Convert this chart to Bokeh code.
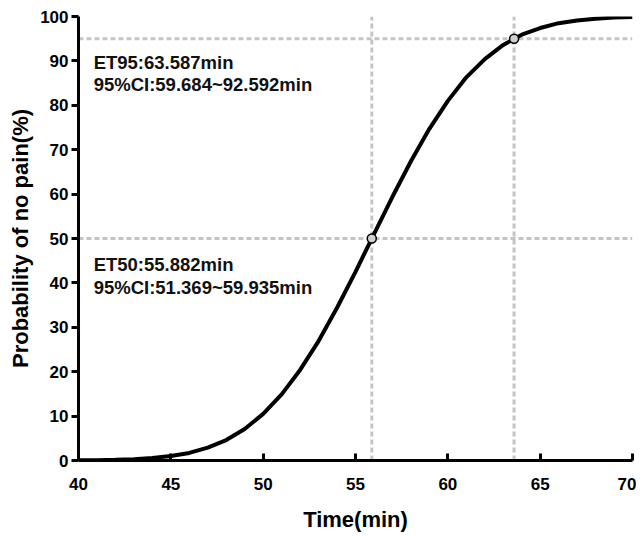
from bokeh.plotting import figure
from bokeh.embed import file_html
from bokeh.resources import INLINE
from bokeh.core.properties import value
from bokeh.models import ColumnDataSource, FixedTicker, Range1d

# Data
time_min = [40, 41, 42, 43, 44, 45, 46, 47, 48, 49, 50, 51, 52, 53, 54, 55,
            56, 57, 58, 59, 60, 61, 62, 63, 64, 65, 66, 67, 68, 69, 70]
prob_pct = [0.04, 0.07, 0.15, 0.3, 0.56, 1.0, 1.7, 2.9, 4.6, 7.1, 10.5, 14.9,
            20.4, 26.9, 34.4, 42.5, 51.0, 59.4, 67.4, 74.7, 81.0, 86.3, 90.4,
            93.6, 95.9, 97.4, 98.5, 99.1, 99.5, 99.75, 99.9]
et_x = [55.882, 63.587]
et_y = [50, 95]
x_ticks = [40, 45, 50, 55, 60, 65, 70]
y_ticks = [0, 10, 20, 30, 40, 50, 60, 70, 80, 90, 100]
ann_lines = ["ET95:63.587min", "95%CI:59.684~92.592min",
             "ET50:55.882min", "95%CI:51.369~59.935min"]
ann_x = [40.82, 40.82, 40.82, 40.82]
ann_y = [89.7, 84.6, 44.1, 39.0]

FONT = "Liberation Sans"

p = figure(width=630, height=528, output_backend="svg", toolbar_location=None,
           x_range=Range1d(40, 70), y_range=Range1d(0, 100),
           frame_width=554, frame_height=444,
           min_border_left=78, min_border_top=16, min_border_right=4, min_border_bottom=10)
p.outline_line_color = None
p.xgrid.visible = False
p.ygrid.visible = False
p.background_fill_color = "white"
p.border_fill_color = "white"

# reference dashed lines
grey = "#c4c4c4"
for xv, yv in zip(et_x, et_y):
    p.line([40, 70], [yv, yv], line_color=grey, line_width=3, line_dash="5 3")
    p.line([xv, xv], [0, 100], line_color=grey, line_width=3, line_dash="5 3")

p.line(time_min, prob_pct, line_color="black", line_width=4)
p.scatter(et_x, et_y, size=9, fill_color="#d0d0d0", line_color="black", line_width=1.5)

src = ColumnDataSource(dict(x=ann_x, y=ann_y, t=ann_lines))
p.text("x", "y", text="t", source=src, text_font=value(FONT), text_font_style="bold",
       text_font_size="18.5px", text_color="#111111", text_baseline="alphabetic", text_align="left")

for ax in (p.xaxis[0], p.yaxis[0]):
    ax.axis_line_width = 3
    ax.axis_line_color = "black"
    ax.major_tick_line_width = 3
    ax.major_tick_line_color = "black"
    ax.minor_tick_line_color = None
    ax.major_label_text_font = FONT
    ax.major_label_text_font_style = "bold"
    ax.major_label_text_font_size = "17px"
    ax.major_label_text_color = "black"
    ax.axis_label_text_font = FONT
    ax.axis_label_text_font_style = "bold"
    ax.axis_label_text_font_size = "22px"
    ax.axis_label_text_color = "black"

p.xaxis.ticker = FixedTicker(ticks=x_ticks)
p.yaxis.ticker = FixedTicker(ticks=y_ticks)
p.xaxis.major_tick_in = 7
p.xaxis.major_tick_out = 0
p.yaxis.major_tick_in = 0
p.yaxis.major_tick_out = 7
p.xaxis.major_label_standoff = 17
p.yaxis.major_label_standoff = 3
p.xaxis.axis_label = "Time(min)"
p.yaxis.axis_label = "Probability of no pain(%)"
p.xaxis.axis_label_standoff = 14
p.yaxis.axis_label_standoff = 4

open("out.html", "w").write(file_html(p, INLINE))
